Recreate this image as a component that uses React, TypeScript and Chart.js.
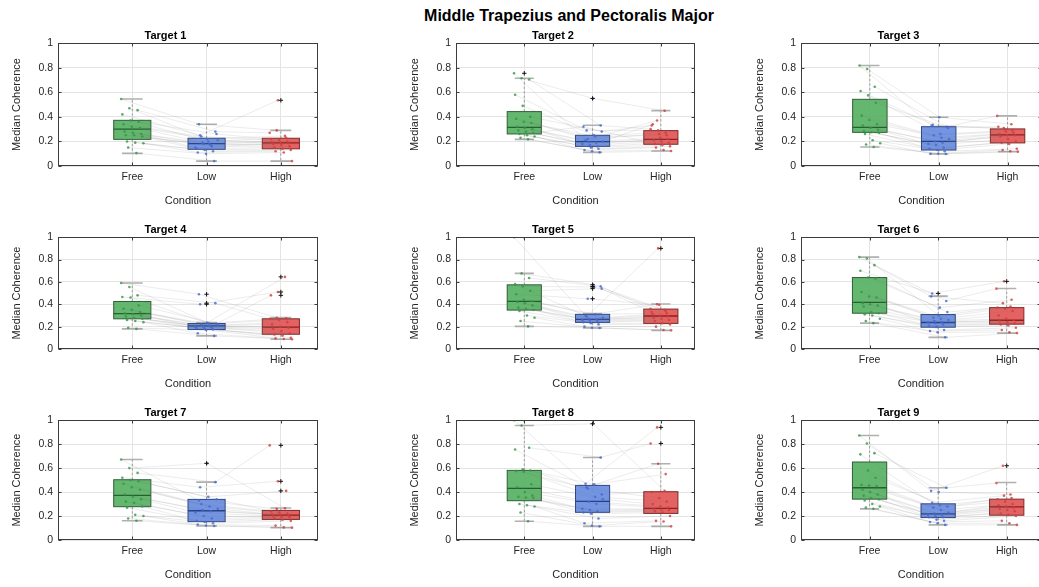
import { useEffect, useRef } from 'react';
import { Chart, registerables } from 'chart.js';

Chart.register(...registerables);

const FONT = '"Liberation Sans", Arial, Helvetica, sans-serif';

const conditions = ['Free', 'Low', 'High'];
const targetTitles = ['Target 1', 'Target 2', 'Target 3', 'Target 4', 'Target 5', 'Target 6', 'Target 7', 'Target 8', 'Target 9'];
const yTicks = [0, 0.2, 0.4, 0.6, 0.8, 1];

// Per-subject median coherence, one row per target (subject order shared across conditions)
const freeValues = [
  [0.545, 0.47, 0.455, 0.42, 0.37, 0.36, 0.34, 0.32, 0.31, 0.28, 0.27, 0.26, 0.25, 0.25, 0.24, 0.2, 0.19, 0.185, 0.15, 0.105],
  [0.755, 0.715, 0.705, 0.58, 0.49, 0.4, 0.385, 0.36, 0.35, 0.32, 0.31, 0.3, 0.29, 0.28, 0.27, 0.26, 0.25, 0.24, 0.23, 0.217],
  [0.818, 0.79, 0.645, 0.61, 0.575, 0.515, 0.41, 0.375, 0.34, 0.33, 0.31, 0.295, 0.285, 0.275, 0.27, 0.26, 0.21, 0.185, 0.175, 0.155],
  [0.59, 0.555, 0.48, 0.465, 0.46, 0.39, 0.36, 0.35, 0.33, 0.32, 0.31, 0.3, 0.29, 0.28, 0.27, 0.26, 0.25, 0.24, 0.19, 0.18],
  [1.0, 0.676, 0.635, 0.58, 0.56, 0.52, 0.49, 0.44, 0.43, 0.42, 0.41, 0.39, 0.37, 0.36, 0.35, 0.34, 0.3, 0.28, 0.25, 0.202],
  [0.822, 0.81, 0.75, 0.7, 0.64, 0.63, 0.51, 0.47, 0.46, 0.41, 0.4, 0.39, 0.38, 0.33, 0.32, 0.31, 0.3, 0.27, 0.25, 0.231],
  [0.672, 0.6, 0.56, 0.52, 0.5, 0.49, 0.47, 0.44, 0.42, 0.38, 0.36, 0.34, 0.32, 0.31, 0.28, 0.27, 0.21, 0.2, 0.18, 0.161],
  [1.0, 0.956, 0.77, 0.755, 0.59, 0.58, 0.575, 0.57, 0.465, 0.44, 0.4, 0.37, 0.36, 0.355, 0.35, 0.3, 0.29, 0.28, 0.23, 0.156],
  [0.872, 0.805, 0.725, 0.715, 0.58, 0.52, 0.46, 0.455, 0.45, 0.42, 0.4, 0.38, 0.37, 0.35, 0.34, 0.33, 0.3, 0.28, 0.27, 0.26],
];

const lowValues = [
  [0.34, 0.22, 0.28, 0.25, 0.2, 0.26, 0.24, 0.18, 0.21, 0.19, 0.17, 0.15, 0.18, 0.16, 0.14, 0.13, 0.12, 0.11, 0.1, 0.04],
  [0.21, 0.55, 0.33, 0.29, 0.25, 0.28, 0.22, 0.24, 0.2, 0.195, 0.19, 0.18, 0.17, 0.16, 0.32, 0.15, 0.14, 0.13, 0.12, 0.111],
  [0.33, 0.397, 0.32, 0.335, 0.26, 0.31, 0.25, 0.23, 0.22, 0.2, 0.19, 0.18, 0.17, 0.15, 0.14, 0.13, 0.12, 0.1, 0.1, 0.098],
  [0.49, 0.235, 0.41, 0.4, 0.23, 0.225, 0.22, 0.21, 0.21, 0.205, 0.2, 0.2, 0.195, 0.19, 0.185, 0.18, 0.175, 0.14, 0.17, 0.117],
  [0.3, 0.575, 0.56, 0.29, 0.555, 0.54, 0.45, 0.31, 0.28, 0.27, 0.265, 0.26, 0.255, 0.25, 0.24, 0.23, 0.22, 0.2, 0.19, 0.188],
  [0.47, 0.3, 0.43, 0.497, 0.37, 0.33, 0.28, 0.27, 0.26, 0.25, 0.24, 0.24, 0.23, 0.22, 0.21, 0.2, 0.17, 0.16, 0.15, 0.104],
  [0.33, 0.64, 0.483, 0.44, 0.36, 0.34, 0.3, 0.28, 0.26, 0.25, 0.24, 0.23, 0.2, 0.18, 0.16, 0.15, 0.14, 0.13, 0.12, 0.117],
  [0.47, 0.97, 0.689, 0.44, 0.465, 0.38, 0.43, 0.36, 0.34, 0.32, 0.3, 0.26, 0.25, 0.24, 0.23, 0.22, 0.18, 0.14, 0.12, 0.114],
  [0.41, 0.4, 0.436, 0.31, 0.29, 0.28, 0.27, 0.25, 0.23, 0.22, 0.21, 0.21, 0.2, 0.19, 0.19, 0.17, 0.16, 0.15, 0.14, 0.126],
];

const highValues = [
  [0.29, 0.245, 0.27, 0.535, 0.23, 0.22, 0.21, 0.2, 0.195, 0.19, 0.185, 0.18, 0.17, 0.16, 0.15, 0.14, 0.13, 0.12, 0.11, 0.04],
  [0.37, 0.45, 0.3, 0.29, 0.27, 0.33, 0.26, 0.25, 0.34, 0.23, 0.22, 0.21, 0.2, 0.19, 0.18, 0.17, 0.16, 0.15, 0.13, 0.122],
  [0.31, 0.34, 0.408, 0.3, 0.29, 0.32, 0.28, 0.27, 0.26, 0.25, 0.25, 0.24, 0.22, 0.2, 0.19, 0.18, 0.14, 0.13, 0.12, 0.117],
  [0.28, 0.645, 0.27, 0.51, 0.275, 0.48, 0.26, 0.24, 0.22, 0.2, 0.19, 0.18, 0.16, 0.14, 0.13, 0.12, 0.1, 0.095, 0.09, 0.087],
  [0.4, 0.35, 0.36, 0.9, 0.34, 0.33, 0.395, 0.32, 0.31, 0.3, 0.29, 0.28, 0.27, 0.26, 0.25, 0.23, 0.22, 0.2, 0.17, 0.167],
  [0.41, 0.38, 0.54, 0.605, 0.44, 0.37, 0.36, 0.34, 0.3, 0.27, 0.26, 0.25, 0.24, 0.23, 0.22, 0.21, 0.19, 0.17, 0.15, 0.142],
  [0.26, 0.265, 0.79, 0.49, 0.41, 0.24, 0.23, 0.22, 0.215, 0.21, 0.205, 0.2, 0.195, 0.19, 0.18, 0.17, 0.16, 0.12, 0.105, 0.103],
  [0.94, 0.41, 0.806, 0.636, 0.55, 0.4, 0.35, 0.32, 0.3, 0.28, 0.27, 0.26, 0.255, 0.25, 0.24, 0.23, 0.2, 0.16, 0.155, 0.114],
  [0.62, 0.38, 0.475, 0.37, 0.35, 0.34, 0.32, 0.3, 0.29, 0.28, 0.27, 0.26, 0.25, 0.24, 0.22, 0.21, 0.2, 0.16, 0.14, 0.126],
];

// Box summaries per target: [lower whisker, Q1, median, Q3, upper whisker]
const freeBoxes = [
  [0.103, 0.217, 0.3, 0.372, 0.546],
  [0.217, 0.261, 0.315, 0.443, 0.715],
  [0.155, 0.274, 0.315, 0.543, 0.818],
  [0.18, 0.27, 0.317, 0.425, 0.59],
  [0.202, 0.348, 0.426, 0.574, 0.676],
  [0.231, 0.32, 0.417, 0.639, 0.822],
  [0.161, 0.278, 0.372, 0.503, 0.672],
  [0.156, 0.328, 0.431, 0.581, 0.956],
  [0.26, 0.341, 0.436, 0.651, 0.872],
];

const lowBoxes = [
  [0.04, 0.136, 0.182, 0.226, 0.34],
  [0.111, 0.16, 0.198, 0.25, 0.332],
  [0.098, 0.13, 0.2, 0.32, 0.397],
  [0.117, 0.174, 0.207, 0.228, 0.237],
  [0.188, 0.238, 0.265, 0.31, 0.318],
  [0.104, 0.195, 0.237, 0.308, 0.473],
  [0.117, 0.153, 0.244, 0.339, 0.483],
  [0.114, 0.231, 0.322, 0.456, 0.689],
  [0.126, 0.187, 0.218, 0.302, 0.436],
];

const highBoxes = [
  [0.04, 0.14, 0.188, 0.226, 0.29],
  [0.122, 0.177, 0.217, 0.288, 0.451],
  [0.117, 0.188, 0.253, 0.302, 0.408],
  [0.087, 0.132, 0.195, 0.27, 0.281],
  [0.167, 0.229, 0.295, 0.357, 0.402],
  [0.142, 0.222, 0.257, 0.37, 0.541],
  [0.103, 0.172, 0.208, 0.247, 0.267],
  [0.114, 0.222, 0.264, 0.403, 0.636],
  [0.126, 0.207, 0.277, 0.341, 0.48],
];

// Styling
const BOX_FILL = ['rgba(88,178,100,0.93)', 'rgba(104,141,226,0.93)', 'rgba(226,86,86,0.93)'];
const BOX_EDGE = ['#2f5f36', '#2d4684', '#7c2a2a'];
const MEDIAN_COLOR = ['#25602f', '#223f8c', '#8a2222'];
const POINT_COLOR = ['rgba(52,150,70,0.8)', 'rgba(70,105,210,0.8)', 'rgba(210,60,60,0.8)'];

// Subplot geometry (plot-area rectangles in page pixels)
const COLUMNS = [
  { left: 58.3, width: 263.4 },
  { left: 455.6, width: 242 },
  { left: 801, width: 243 },
];
const ROWS = [
  { top: 43.3, height: 122.7 },
  { top: 237.2, height: 111.6 },
  { top: 420.5, height: 119.8 },
];
const Y_AXIS_W = 48;
const X_AXIS_H = 42;
const TITLE_H = 16.2;
const RIGHT_PAD = 2;
const BOX_HALF = 0.25;
const CAP_HALF = 0.14;

const jitter = (i: number, c: number) => ((((i * 7 + c * 3) % 20) / 19) - 0.5) * 0.3;

function Panel({ index }: { index: number }) {
  const ref = useRef<HTMLCanvasElement | null>(null);
  const col = COLUMNS[index % 3];
  const row = ROWS[Math.floor(index / 3)];
  const left = Math.round(col.left - Y_AXIS_W);
  const top = Math.round(row.top - TITLE_H);
  const width = Math.round(Y_AXIS_W + col.width + RIGHT_PAD);
  const height = Math.round(TITLE_H + row.height + X_AXIS_H);

  useEffect(() => {
    if (!ref.current) return;
    const series = [freeValues[index], lowValues[index], highValues[index]];
    const boxes = [freeBoxes[index], lowBoxes[index], highBoxes[index]];
    const subjects = series[0].length;

    // One faint line per subject joining its three conditions
    const lineSets = [];
    for (let i = 0; i < subjects; i++) {
      lineSets.push({
        type: 'line' as const,
        data: series.map((vals, c) => ({ x: c + 1 + jitter(i, c), y: vals[i] })),
        showLine: true,
        borderColor: 'rgba(120,120,120,0.2)',
        borderWidth: 0.7,
        pointRadius: 0,
        fill: false,
        order: 3,
      });
    }

    const pointSets = series.map((vals, c) => ({
      type: 'scatter' as const,
      data: vals.map((v, i) => ({ x: c + 1 + jitter(i, c), y: v })),
      showLine: false,
      backgroundColor: POINT_COLOR[c],
      borderWidth: 0,
      pointRadius: 1.3,
      order: 2,
    }));

    const outliers: { x: number; y: number }[] = [];
    series.forEach((vals, c) => {
      const [lo, , , , hi] = boxes[c];
      vals.forEach((v) => {
        if (v > hi + 0.004 || v < lo - 0.004) outliers.push({ x: c + 1, y: v });
      });
    });
    const outlierSet = {
      type: 'scatter' as const,
      data: outliers,
      showLine: false,
      pointStyle: 'cross' as const,
      pointRadius: 2.2,
      borderColor: '#111',
      borderWidth: 1,
      order: 1,
    };

    const boxPlugin = {
      id: 'boxSummary',
      beforeDatasetsDraw(chart: Chart) {
        const { ctx, chartArea } = chart;
        const x = chart.scales.x;
        const y = chart.scales.y;
        ctx.save();
        ctx.beginPath();
        ctx.rect(chartArea.left, chartArea.top, chartArea.right - chartArea.left, chartArea.bottom - chartArea.top);
        ctx.clip();
        boxes.forEach((b, c) => {
          const [lo, q1, med, q3, hi] = b;
          const cx = x.getPixelForValue(c + 1);
          const xl = x.getPixelForValue(c + 1 - BOX_HALF);
          const xr = x.getPixelForValue(c + 1 + BOX_HALF);
          const cl = x.getPixelForValue(c + 1 - CAP_HALF);
          const cr = x.getPixelForValue(c + 1 + CAP_HALF);
          const yLo = y.getPixelForValue(lo);
          const yQ1 = y.getPixelForValue(q1);
          const yMed = y.getPixelForValue(med);
          const yQ3 = y.getPixelForValue(q3);
          const yHi = y.getPixelForValue(hi);

          ctx.strokeStyle = '#8a8a8a';
          ctx.lineWidth = 0.8;
          ctx.setLineDash([2.5, 2]);
          ctx.beginPath();
          ctx.moveTo(cx, yQ3);
          ctx.lineTo(cx, yHi);
          ctx.moveTo(cx, yQ1);
          ctx.lineTo(cx, yLo);
          ctx.stroke();
          ctx.setLineDash([]);

          ctx.strokeStyle = '#b0b0b0';
          ctx.lineWidth = 1.6;
          ctx.beginPath();
          ctx.moveTo(cl, yHi);
          ctx.lineTo(cr, yHi);
          ctx.moveTo(cl, yLo);
          ctx.lineTo(cr, yLo);
          ctx.stroke();

          ctx.fillStyle = BOX_FILL[c];
          ctx.fillRect(xl, yQ3, xr - xl, yQ1 - yQ3);
          ctx.strokeStyle = BOX_EDGE[c];
          ctx.lineWidth = 1;
          ctx.strokeRect(xl, yQ3, xr - xl, yQ1 - yQ3);

          ctx.strokeStyle = MEDIAN_COLOR[c];
          ctx.lineWidth = 1.3;
          ctx.beginPath();
          ctx.moveTo(xl, yMed);
          ctx.lineTo(xr, yMed);
          ctx.stroke();
        });
        ctx.restore();
      },
    };

    const framePlugin = {
      id: 'axesFrame',
      afterDatasetsDraw(chart: Chart) {
        const { ctx, chartArea } = chart;
        const x = chart.scales.x;
        const y = chart.scales.y;
        const l = Math.round(chartArea.left) + 0.5;
        const r = Math.round(chartArea.right) - 0.5;
        const t = Math.round(chartArea.top) + 0.5;
        const b = Math.round(chartArea.bottom) - 0.5;
        ctx.save();
        ctx.strokeStyle = '#3c3c3c';
        ctx.lineWidth = 1;
        ctx.strokeRect(l, t, r - l, b - t);
        ctx.beginPath();
        yTicks.forEach((v) => {
          const py = Math.round(y.getPixelForValue(v)) + 0.5;
          ctx.moveTo(l, py);
          ctx.lineTo(l + 3, py);
          ctx.moveTo(r, py);
          ctx.lineTo(r - 3, py);
        });
        conditions.forEach((_, c) => {
          const px = Math.round(x.getPixelForValue(c + 1)) + 0.5;
          ctx.moveTo(px, b);
          ctx.lineTo(px, b - 3);
          ctx.moveTo(px, t);
          ctx.lineTo(px, t + 3);
        });
        ctx.stroke();
        ctx.restore();
      },
    };

    const chart = new Chart(ref.current, {
      type: 'scatter',
      data: { datasets: [...lineSets, ...pointSets, outlierSet] as any },
      options: {
        animation: false,
        responsive: false,
        devicePixelRatio: 1,
        layout: { padding: { left: 0, right: RIGHT_PAD, top: 0, bottom: 0 } },
        plugins: {
          legend: { display: false },
          tooltip: { enabled: false },
          title: {
            display: true,
            text: targetTitles[index],
            color: '#000',
            font: { family: FONT, size: 11, weight: 'bold' },
            padding: { top: 2, bottom: 1 },
          },
        },
        scales: {
          x: {
            type: 'linear',
            min: 0,
            max: 3.5,
            afterBuildTicks: (s: any) => {
              s.ticks = conditions.map((_, c) => ({ value: c + 1 }));
            },
            afterFit: (s: any) => {
              s.height = X_AXIS_H;
            },
            ticks: {
              autoSkip: false,
              maxRotation: 0,
              padding: 5,
              color: '#262626',
              font: { family: FONT, size: 10.5 },
              callback: (v: any) => conditions[Math.round(Number(v)) - 1] ?? '',
            },
            grid: { color: '#e4e4e4', lineWidth: 1, drawTicks: false },
            border: { display: false },
            title: {
              display: true,
              text: 'Condition',
              color: '#262626',
              font: { family: FONT, size: 11 },
              padding: { top: 0, bottom: 0 },
            },
          },
          y: {
            type: 'linear',
            min: 0,
            max: 1,
            afterBuildTicks: (s: any) => {
              s.ticks = yTicks.map((v) => ({ value: v }));
            },
            afterFit: (s: any) => {
              s.width = Y_AXIS_W;
            },
            ticks: {
              padding: 5,
              color: '#262626',
              font: { family: FONT, size: 10.5 },
              callback: (v: any) => String(Math.round(Number(v) * 10) / 10),
            },
            grid: { color: '#e4e4e4', lineWidth: 1, drawTicks: false },
            border: { display: false },
            title: {
              display: true,
              text: 'Median Coherence',
              color: '#262626',
              font: { family: FONT, size: 11 },
              padding: { top: 0, bottom: 0 },
            },
          },
        },
      },
      plugins: [boxPlugin, framePlugin],
    });
    return () => chart.destroy();
  }, [index]);

  return (
    <canvas
      ref={ref}
      width={width}
      height={height}
      style={{ position: 'absolute', left, top, width, height }}
    />
  );
}

export default function App() {
  return (
    <div
      style={{
        position: 'fixed',
        left: 0,
        top: 0,
        width: 1039,
        height: 587,
        overflow: 'hidden',
        background: '#fff',
      }}
    >
      <div
        style={{
          position: 'absolute',
          left: 369,
          top: 6,
          width: 400,
          textAlign: 'center',
          fontFamily: FONT,
          fontWeight: 'bold',
          fontSize: 16,
          lineHeight: '20px',
          color: '#000',
        }}
      >
        Middle Trapezius and Pectoralis Major
      </div>
      {targetTitles.map((_, i) => (
        <Panel key={i} index={i} />
      ))}
    </div>
  );
}
